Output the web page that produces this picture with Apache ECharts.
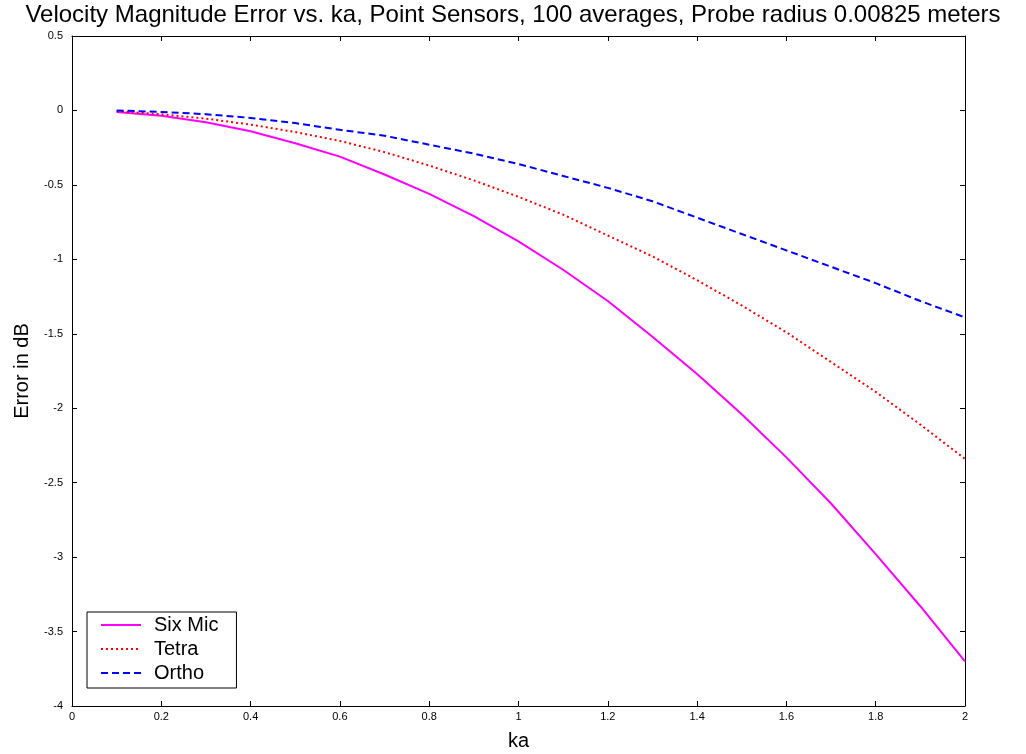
<!DOCTYPE html>
<html>
<head>
<meta charset="utf-8">
<script src="https://cdn.jsdelivr.net/npm/echarts@6/dist/echarts.min.js"></script>
<style>
  html, body { margin: 0; padding: 0; background: #fff; }
  #chart { width: 1026px; height: 754px; }
</style>
</head>
<body>
<div id="chart"></div>
<script>
// ka values (x axis)
const ka = [0.1, 0.2, 0.3, 0.4, 0.5, 0.6, 0.7, 0.8, 0.9, 1.0,
            1.1, 1.2, 1.3, 1.4, 1.5, 1.6, 1.7, 1.8, 1.9, 2.0];

// Velocity magnitude error in dB for each probe type
const sixMic = [-0.01, -0.035, -0.08, -0.14, -0.22, -0.31, -0.43, -0.56, -0.71, -0.88,
                -1.07, -1.28, -1.52, -1.77, -2.04, -2.33, -2.64, -2.98, -3.33, -3.70];
const tetra  = [-0.005, -0.025, -0.055, -0.095, -0.145, -0.205, -0.28, -0.37, -0.47, -0.58,
                -0.70, -0.84, -0.98, -1.14, -1.31, -1.49, -1.69, -1.89, -2.11, -2.34];
const ortho  = [0, -0.01, -0.025, -0.05, -0.085, -0.13, -0.17, -0.23, -0.29, -0.36,
                -0.44, -0.52, -0.61, -0.72, -0.83, -0.94, -1.05, -1.16, -1.28, -1.39];

const seriesNames = ['Six Mic', 'Tetra', 'Ortho'];
const titleText = 'Velocity Magnitude Error vs. ka, Point Sensors, 100 averages, Probe radius 0.00825 meters';

const pairs = arr => ka.map((k, i) => [k, arr[i]]);
const FONT = '"Liberation Sans", Arial, sans-serif';

// shared look for the four sides of the plot box: black frame, inward ticks
const boxAxis = () => ({
  axisLine: { show: true, onZero: false, lineStyle: { color: '#000', width: 1 } },
  axisTick: { show: true, inside: true, length: 5, lineStyle: { color: '#000' } },
  splitLine: { show: false }
});

const chart = echarts.init(document.getElementById('chart'));
chart.setOption({
  animation: false,
  backgroundColor: '#fff',
  title: {
    text: titleText,
    left: 'center',
    top: 3,
    padding: 0,
    textStyle: { fontFamily: FONT, fontSize: 24, fontWeight: 'normal', color: '#000' }
  },
  grid: { left: 72, right: 61, top: 36, bottom: 48, containLabel: false, outerBoundsMode: 'none' },
  legend: {
    orient: 'vertical',
    left: 87,
    top: 612,
    data: seriesNames,
    itemWidth: 40,
    itemHeight: 10,
    itemGap: 4,
    padding: [3, 18, 5, 13],
    borderColor: '#000',
    borderWidth: 1,
    backgroundColor: '#fff',
    itemStyle: { opacity: 0 },
    textStyle: { fontFamily: FONT, fontSize: 20, lineHeight: 20, color: '#000', padding: [0, 0, 0, 8] }
  },
  xAxis: [
    Object.assign(boxAxis(), {
      type: 'value', min: 0, max: 2, interval: 0.2, position: 'bottom',
      name: 'ka', nameLocation: 'middle', nameGap: 25,
      nameTextStyle: { fontFamily: FONT, fontSize: 20, color: '#000' },
      axisLabel: { fontFamily: FONT, fontSize: 11, color: '#000', margin: 5 }
    }),
    Object.assign(boxAxis(), {
      type: 'value', min: 0, max: 2, interval: 0.2, position: 'top',
      axisLabel: { show: false }
    })
  ],
  yAxis: [
    Object.assign(boxAxis(), {
      type: 'value', min: -4, max: 0.5, interval: 0.5, position: 'left',
      name: 'Error in dB', nameLocation: 'middle', nameGap: 40, nameRotate: 90,
      nameTextStyle: { fontFamily: FONT, fontSize: 20, color: '#000' },
      axisLabel: { fontFamily: FONT, fontSize: 11, color: '#000', margin: 9 }
    }),
    Object.assign(boxAxis(), {
      type: 'value', min: -4, max: 0.5, interval: 0.5, position: 'right',
      axisLabel: { show: false }
    })
  ],
  series: [
    {
      name: seriesNames[0], type: 'line', data: pairs(sixMic),
      showSymbol: false, symbol: 'none',
      lineStyle: { color: '#ff00ff', width: 2, type: 'solid' },
      itemStyle: { color: '#ff00ff' }
    },
    {
      name: seriesNames[1], type: 'line', data: pairs(tetra),
      showSymbol: false, symbol: 'none',
      lineStyle: { color: '#ff0000', width: 2, type: [2, 3] },
      itemStyle: { color: '#ff0000' }
    },
    {
      name: seriesNames[2], type: 'line', data: pairs(ortho),
      showSymbol: false, symbol: 'none',
      lineStyle: { color: '#0000ff', width: 2, type: [7, 4] },
      itemStyle: { color: '#0000ff' }
    }
  ]
});
</script>
</body>
</html>
